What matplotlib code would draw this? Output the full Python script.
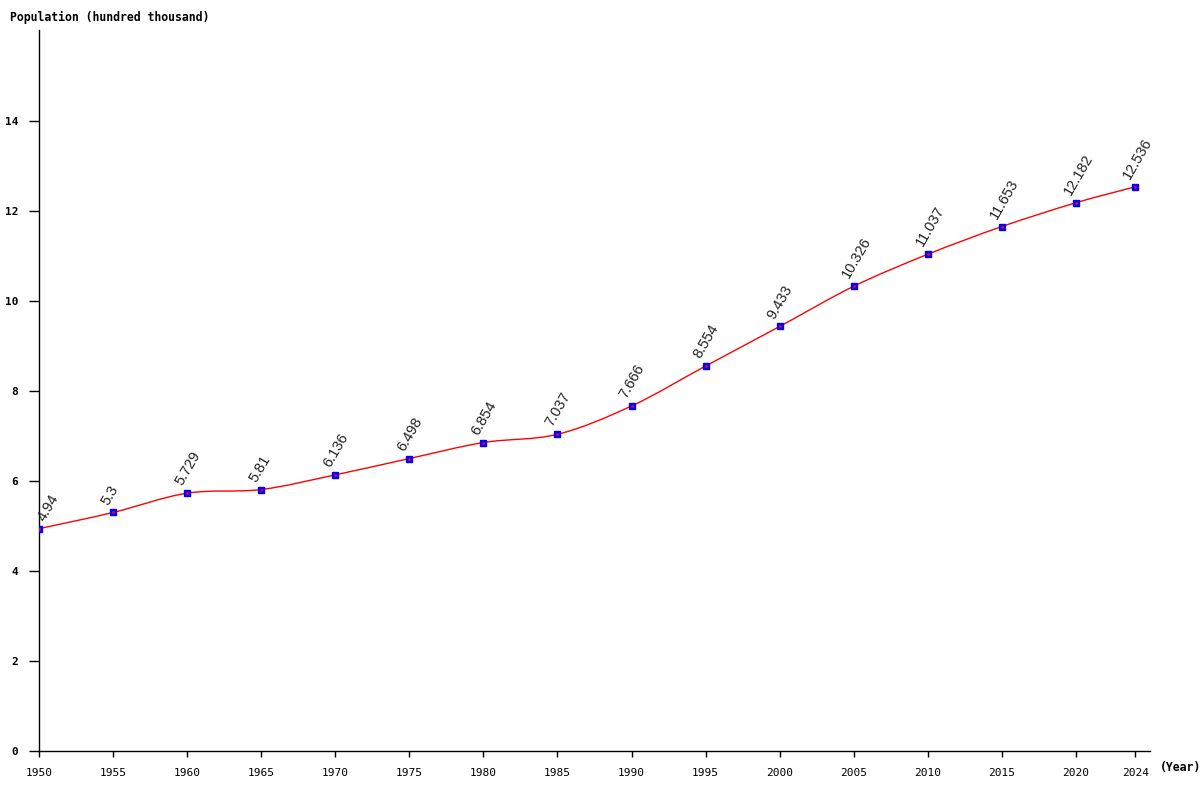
import matplotlib
matplotlib.use("Agg")
import matplotlib.pyplot as plt
from matplotlib.path import Path
from matplotlib.patches import PathPatch
import numpy as np

years = [1950, 1955, 1960, 1965, 1970, 1975, 1980, 1985, 1990, 1995, 2000, 2005, 2010, 2015, 2020, 2024]
population = [4.94, 5.3, 5.729, 5.81, 6.136, 6.498, 6.854, 7.037, 7.666, 8.554, 9.433, 10.326, 11.037, 11.653, 12.182, 12.536]
labels = ["4.94", "5.3", "5.729", "5.81", "6.136", "6.498", "6.854", "7.037", "7.666", "8.554",
          "9.433", "10.326", "11.037", "11.653", "12.182", "12.536"]
y_ticks = [0, 2, 4, 6, 8, 10, 12, 14]
x_ticks = years

fig = plt.figure(figsize=(12, 8), dpi=100)
ax = fig.add_axes([39/1200, 1-751/800, (1150-39)/1200, (751-30)/800])
ax.set_xlim(1950, 2025.0)
ax.set_ylim(0, 16.02)

# smooth curve via cubic Bezier segments (Catmull-Rom style control points)
x = np.array(years, dtype=float)
y = np.array(population, dtype=float)
n = len(x)
verts = [(x[0], y[0])]
codes = [Path.MOVETO]
t = 1/6
for i in range(n-1):
    p0 = (x[i-1], y[i-1]) if i > 0 else (x[i], y[i])
    p1 = (x[i], y[i])
    p2 = (x[i+1], y[i+1])
    p3 = (x[i+2], y[i+2]) if i+2 < n else (x[i+1], y[i+1])
    c1 = (p1[0] + (p2[0]-p0[0])*t, p1[1] + (p2[1]-p0[1])*t)
    c2 = (p2[0] - (p3[0]-p1[0])*t, p2[1] - (p3[1]-p1[1])*t)
    verts += [c1, c2, p2]
    codes += [Path.CURVE4]*3
ax.add_patch(PathPatch(Path(verts, codes), facecolor='none', edgecolor='red', lw=1.0, zorder=2))

ax.plot(years, population, linestyle='none', marker='s', markersize=4, color='blue',
        markeredgecolor='blue', zorder=3)
ax.plot(years, population, linestyle='none', marker='.', markersize=2, color='red', zorder=4)

for i, (xv, yv, lab) in enumerate(zip(years, population, labels)):
    dx = 4 if i == 0 else -3.5
    ax.annotate(lab, (xv, yv), xytext=(dx, 5), textcoords='offset points',
                rotation=60, rotation_mode='anchor', ha='left', va='baseline',
                fontsize=10.5, family='Liberation Sans', color='#222222')

for s in ['top', 'right']:
    ax.spines[s].set_visible(False)
ax.spines['left'].set_color('black')
ax.spines['bottom'].set_color('black')
ax.spines['left'].set_linewidth(1)
ax.spines['bottom'].set_linewidth(1)

ax.set_xticks(x_ticks)
ax.set_xticklabels([str(v) for v in x_ticks], family='DejaVu Sans Mono', fontsize=8)
ax.set_yticks(y_ticks)
ax.set_yticklabels([str(v) for v in y_ticks], family='DejaVu Sans Mono', fontsize=8, fontweight='bold')
ax.tick_params(axis='x', direction='out', length=4, width=1, pad=8)
ax.tick_params(axis='y', direction='out', length=7, width=1, pad=8)

fig.text(10/1200, 1-17/800, "Population (hundred thousand)", family='DejaVu Sans Mono',
         fontsize=8.3, fontweight='bold', va='center', ha='left')
fig.text(1160/1200, 1-767/800, "(Year)", family='DejaVu Sans Mono',
         fontsize=8.3, fontweight='bold', va='center', ha='left')

fig.savefig("out.png", dpi=100, facecolor='white')
